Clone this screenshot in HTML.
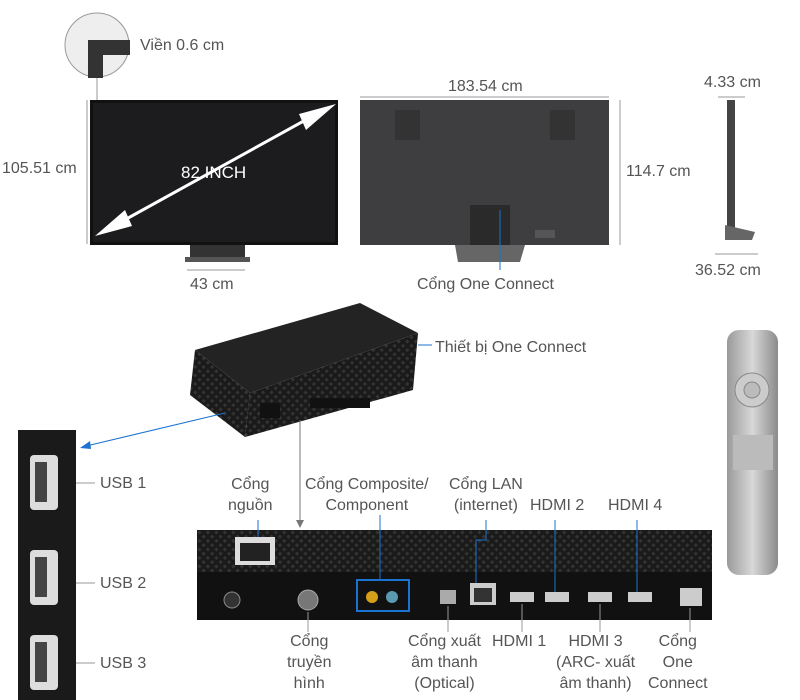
<!DOCTYPE html>
<html><head><meta charset="utf-8"><style>
body{margin:0;width:800px;height:700px;background:#fff;position:relative;overflow:hidden;font-family:"Liberation Sans","Noto Sans CJK SC",sans-serif;}
.t{position:absolute;font-size:16px;color:#555;white-space:nowrap;line-height:21px}
.c{text-align:center}
</style></head><body>
<svg width="800" height="700" style="position:absolute;left:0;top:0">
<defs>
<pattern id="mesh" width="6" height="6" patternUnits="userSpaceOnUse" patternTransform="rotate(45)"><rect width="6" height="6" fill="#1a1a1a"/><rect width="3" height="3" fill="#333"/></pattern>
<linearGradient id="rem" x1="0" x2="1"><stop offset="0" stop-color="#9a9a9a"/><stop offset="0.5" stop-color="#d8d8d8"/><stop offset="1" stop-color="#8a8a8a"/></linearGradient>
</defs>
<!-- front TV -->
<rect x="90" y="100" width="248" height="145" fill="#111"/>
<rect x="93" y="103" width="242" height="139" fill="#1c1c1e"/>
<line x1="110" y1="228" x2="320" y2="112" stroke="#fff" stroke-width="3"/>
<polygon points="95,236 125,210 132,226" fill="#fff"/>
<polygon points="336,104 306,130 299,114" fill="#fff"/>
<rect x="190" y="245" width="55" height="12" fill="#333"/>
<rect x="185" y="257" width="65" height="5" fill="#555"/>
<line x1="87" y1="100" x2="87" y2="244" stroke="#999"/>
<line x1="187" y1="270" x2="245" y2="270" stroke="#999"/>
<line x1="97" y1="78" x2="97" y2="100" stroke="#999"/>
<circle cx="97" cy="45" r="32" fill="#eee" stroke="#999"/>
<path d="M88,78 L88,40 L130,40 L130,55 L103,55 L103,78 Z" fill="#333"/>
<!-- back TV -->
<rect x="360" y="100" width="249" height="145" fill="#3e3e40"/>
<rect x="395" y="110" width="25" height="30" fill="#333"/>
<rect x="550" y="110" width="25" height="30" fill="#333"/>
<rect x="535" y="230" width="20" height="8" fill="#555"/>
<rect x="470" y="205" width="40" height="40" fill="#2a2a2a"/>
<polygon points="455,245 525,245 520,262 458,262" fill="#666"/>
<line x1="360" y1="97" x2="609" y2="97" stroke="#999"/>
<line x1="620" y1="100" x2="620" y2="245" stroke="#999"/>
<line x1="500" y1="210" x2="500" y2="270" stroke="#1a73d0"/>
<!-- side -->
<rect x="727" y="100" width="8" height="140" fill="#444"/>
<polygon points="725,225 755,232 752,240 725,240" fill="#666"/>
<line x1="718" y1="97" x2="745" y2="97" stroke="#999"/>
<line x1="715" y1="254" x2="758" y2="254" stroke="#999"/>
<!-- one connect box -->
<polygon points="195,350 360,303 418,333 250,393" fill="#232323"/>
<polygon points="250,393 418,333 413,390 245,437" fill="url(#mesh)"/>
<polygon points="195,350 250,393 245,437 190,395" fill="url(#mesh)"/>
<rect x="260" y="403" width="20" height="15" fill="#111"/>
<rect x="310" y="398" width="60" height="10" fill="#111"/>
<line x1="418" y1="345" x2="432" y2="345" stroke="#1a73d0"/>
<line x1="225" y1="413" x2="82" y2="447" stroke="#1a73d0"/>
<polygon points="80,448 90,441 91,449" fill="#1a73d0"/>
<line x1="300" y1="420" x2="300" y2="522" stroke="#777"/>
<polygon points="296,520 304,520 300,528" fill="#777"/>
<!-- remote -->
<rect x="727" y="330" width="51" height="245" rx="12" fill="url(#rem)"/>
<circle cx="752" cy="390" r="17" fill="#ccc" stroke="#888"/>
<circle cx="752" cy="390" r="8" fill="#bbb" stroke="#888"/>
<rect x="733" y="435" width="40" height="35" fill="#bbb"/>
<!-- USB panel -->
<rect x="18" y="430" width="58" height="270" fill="#1a1a1a"/>
<rect x="30" y="455" width="28" height="55" rx="4" fill="#ddd"/><rect x="35" y="462" width="12" height="40" fill="#444"/>
<rect x="30" y="550" width="28" height="55" rx="4" fill="#ddd"/><rect x="35" y="557" width="12" height="40" fill="#444"/>
<rect x="30" y="635" width="28" height="55" rx="4" fill="#ddd"/><rect x="35" y="642" width="12" height="40" fill="#444"/>
<line x1="76" y1="483" x2="95" y2="483" stroke="#999"/>
<line x1="76" y1="583" x2="95" y2="583" stroke="#999"/>
<line x1="76" y1="663" x2="95" y2="663" stroke="#999"/>
<!-- port panel -->
<rect x="197" y="530" width="515" height="90" fill="url(#mesh)"/>
<rect x="197" y="572" width="515" height="48" fill="#111"/>
<rect x="235" y="537" width="40" height="28" fill="#ddd"/><rect x="240" y="543" width="30" height="18" fill="#222"/>
<circle cx="232" cy="600" r="8" fill="#333" stroke="#888"/>
<circle cx="308" cy="600" r="10" fill="#777" stroke="#aaa"/>
<rect x="357" y="580" width="52" height="31" fill="none" stroke="#1a73d0" stroke-width="2"/>
<circle cx="372" cy="597" r="6" fill="#d4a017"/><circle cx="392" cy="597" r="6" fill="#5a9ab0"/>
<rect x="440" y="590" width="16" height="14" fill="#aaa"/>
<rect x="470" y="583" width="26" height="22" fill="#ccc"/><rect x="474" y="588" width="18" height="14" fill="#333"/>
<rect x="510" y="592" width="24" height="10" fill="#ccc"/><rect x="545" y="592" width="24" height="10" fill="#ccc"/><rect x="588" y="592" width="24" height="10" fill="#ccc"/><rect x="628" y="592" width="24" height="10" fill="#ccc"/>
<rect x="680" y="588" width="22" height="18" fill="#ccc"/>
<g stroke="#1a73d0" fill="none">
<line x1="258" y1="520" x2="258" y2="537"/><line x1="380" y1="515" x2="380" y2="580"/>
<polyline points="486,520 486,540 476,540 476,583"/>
<line x1="555" y1="520" x2="555" y2="592"/><line x1="637" y1="520" x2="637" y2="592"/>
</g>
<g stroke="#999"><line x1="308" y1="612" x2="308" y2="632"/><line x1="448" y1="606" x2="448" y2="632"/><line x1="522" y1="604" x2="522" y2="632"/><line x1="600" y1="604" x2="600" y2="632"/><line x1="690" y1="608" x2="690" y2="632"/></g>
</svg>
<div class="t" style="left:140px;top:35px">Viền 0.6 cm</div>
<div class="t" style="left:181px;top:162px;color:#fff;font-size:17px">82 INCH</div>
<div class="t" style="left:2px;top:158px">105.51 cm</div>
<div class="t" style="left:190px;top:274px">43 cm</div>
<div class="t" style="left:448px;top:76px">183.54 cm</div>
<div class="t" style="left:626px;top:161px">114.7 cm</div>
<div class="t" style="left:417px;top:274px">Cổng One Connect</div>
<div class="t" style="left:704px;top:72px">4.33 cm</div>
<div class="t" style="left:695px;top:260px">36.52 cm</div>
<div class="t" style="left:435px;top:337px">Thiết bị One Connect</div>
<div class="t" style="left:100px;top:473px">USB 1</div>
<div class="t" style="left:100px;top:573px">USB 2</div>
<div class="t" style="left:100px;top:653px">USB 3</div>
<div class="t c" style="left:228px;top:474px">Cổng<br>nguồn</div>
<div class="t c" style="left:305px;top:474px">Cổng Composite/<br>Component</div>
<div class="t c" style="left:449px;top:474px">Cổng LAN<br>(internet)</div>
<div class="t" style="left:530px;top:495px">HDMI 2</div>
<div class="t" style="left:608px;top:495px">HDMI 4</div>
<div class="t c" style="left:287px;top:631px">Cổng<br>truyền<br>hình</div>
<div class="t c" style="left:408px;top:631px">Cổng xuất<br>âm thanh<br>(Optical)</div>
<div class="t" style="left:492px;top:631px">HDMI 1</div>
<div class="t c" style="left:556px;top:631px">HDMI 3<br>(ARC- xuất<br>âm thanh)</div>
<div class="t c" style="left:648px;top:631px">Cổng<br>One<br>Connect</div>
</body></html>
